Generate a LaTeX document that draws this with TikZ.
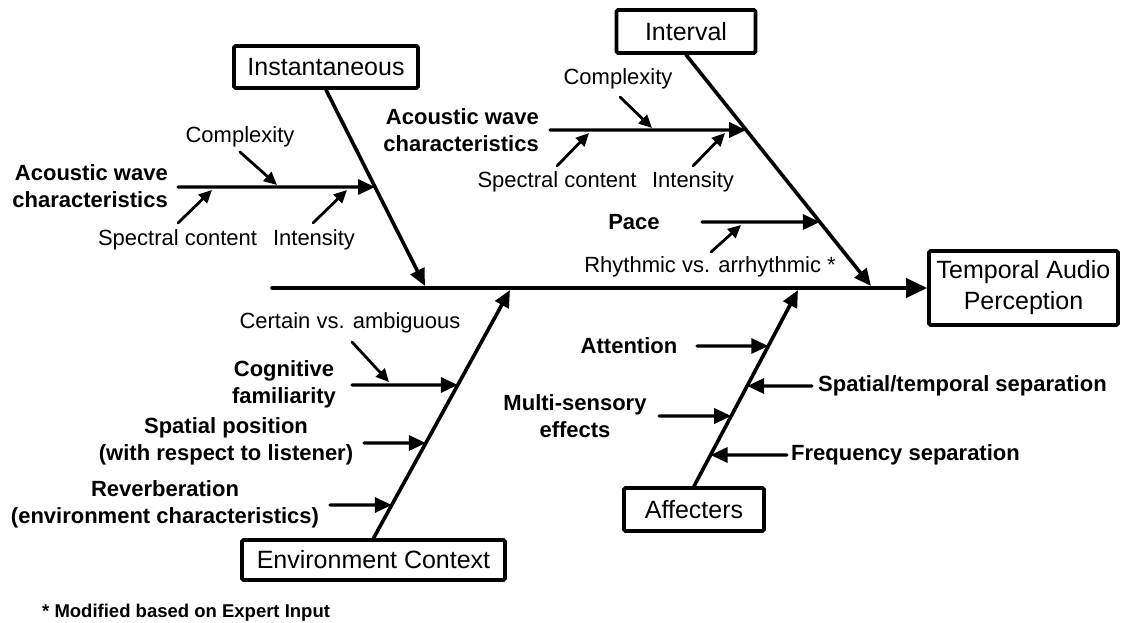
\documentclass[tikz,border=0pt]{standalone}
\usepackage{fontspec}
\setmainfont{Liberation Sans}
\usetikzlibrary{arrows.meta}
\begin{document}
\begin{tikzpicture}[x=1pt,y=-1pt,
  bone/.style={line width=3.6pt, line cap=round, -{Triangle[length=17pt,width=15pt]}},
  rib/.style={line width=3.3pt, line cap=round, -{Triangle[length=17pt,width=15pt]}},
  twig/.style={line width=2.8pt, line cap=round, -{Triangle[length=13pt,width=12pt]}},
  catbox/.style={draw, line width=3.6pt, rounded corners=1.5pt, inner sep=0pt,
    font=\fontsize{25}{31}\selectfont, align=center},
  lbl/.style={inner sep=0pt, font=\fontsize{22}{27}\selectfont},
  blbl/.style={inner sep=0pt, font=\fontsize{22}{27}\selectfont\bfseries, align=center},
]
\useasboundingbox (0,0) rectangle (1127,623);

% category boxes and the head
\node[catbox, minimum width=184pt, minimum height=42pt] (inst) at (326,67) {Instantaneous};
\node[catbox, minimum width=139pt, minimum height=43pt] (intv) at (686,31.5) {Interval};
\node[catbox, minimum width=189pt, minimum height=74pt] (tap) at (1023.5,288) {Temporal Audio\\Perception};
\node[catbox, minimum width=263pt, minimum height=40pt] (env) at (373.5,560) {Environment Context};
\node[catbox, minimum width=140pt, minimum height=43pt] (aff) at (694,509.5) {Affecters};

% spine
\coordinate (tail) at (272,288);
\draw[bone, -{Triangle[length=21pt,width=19pt]}] (tail) -- (tap.west);

% main bones
\coordinate (instTip) at (425,286);
\coordinate (intvTip) at (871,286);
\coordinate (envTip) at (510,290);
\coordinate (affTip) at (798,290);
\draw[bone] (inst.south) -- (instTip);
\draw[bone] (intv.south) -- (intvTip);
\draw[bone] (env.north) -- (envTip);
\draw[bone] (aff.north) -- (affTip);

% ---- Instantaneous
\coordinate (iA0) at (178,187);
\coordinate (iA) at (intersection of inst.south--instTip and 0,187--100,187);
\draw[rib] (iA0) -- (iA);
\node[blbl, align=right, anchor=east] (iAl) at (168,186.5) {Acoustic wave\\characteristics};
\node[lbl] (iCx) at (240,137) {Complexity};
\node[lbl] (iSp) at (177.5,240) {Spectral content};
\node[lbl] (iIn) at (314,240) {Intensity};
\coordinate (iCx0) at (240,152); \coordinate (iCx1) at (277,185);
\coordinate (iSp0) at (178,223); \coordinate (iSp1) at (212,190);
\coordinate (iIn0) at (313,223); \coordinate (iIn1) at (347,190);
\draw[twig] (iCx0) -- (iCx1);
\draw[twig] (iSp0) -- (iSp1);
\draw[twig] (iIn0) -- (iIn1);

% ---- Interval
\coordinate (vA0) at (550,130);
\coordinate (vA) at (intersection of intv.south--intvTip and 0,130--100,130);
\draw[rib] (vA0) -- (vA);
\node[blbl, align=right, anchor=east] (vAl) at (539,130) {Acoustic wave\\characteristics};
\node[lbl] (vCx) at (618,79) {Complexity};
\node[lbl] (vSp) at (557,182) {Spectral content};
\node[lbl] (vIn) at (693,182) {Intensity};
\coordinate (vCx0) at (620,97);  \coordinate (vCx1) at (652,128);
\coordinate (vSp0) at (557,166); \coordinate (vSp1) at (589,133);
\coordinate (vIn0) at (693,166); \coordinate (vIn1) at (725,133);
\draw[twig] (vCx0) -- (vCx1);
\draw[twig] (vSp0) -- (vSp1);
\draw[twig] (vIn0) -- (vIn1);

\coordinate (vP0) at (702,222);
\coordinate (vP) at (intersection of intv.south--intvTip and 0,222--100,222);
\draw[rib] (vP0) -- (vP);
\node[blbl] (vPl) at (634,222) {Pace};
\node[lbl] (vRh) at (710,267) {Rhythmic vs. arrhythmic *};
\coordinate (vRh0) at (711,252); \coordinate (vRh1) at (741,225);
\draw[twig] (vRh0) -- (vRh1);

% ---- Environment Context
\coordinate (eC0) at (352,385);
\coordinate (eC) at (intersection of env.north--envTip and 0,385--100,385);
\draw[rib] (eC0) -- (eC);
\node[blbl] (eCl) at (284,384.5) {Cognitive\\familiarity};
\node[lbl] (eCa) at (350,323) {Certain vs. ambiguous};
\coordinate (eCa0) at (352,342); \coordinate (eCa1) at (389,382);
\draw[twig] (eCa0) -- (eCa1);

\coordinate (eS0) at (364,443);
\coordinate (eS) at (intersection of env.north--envTip and 0,443--100,443);
\draw[rib] (eS0) -- (eS);
\node[blbl] (eSl) at (226,441.5) {Spatial position\\(with respect to listener)};

\coordinate (eR0) at (330,505);
\coordinate (eR) at (intersection of env.north--envTip and 0,505--100,505);
\draw[rib] (eR0) -- (eR);
\node[blbl] (eRl) at (165,504) {Reverberation\\(environment characteristics)};

% ---- Affecters
\coordinate (aA0) at (697,346);
\coordinate (aA) at (intersection of aff.north--affTip and 0,346--100,346);
\draw[rib] (aA0) -- (aA);
\node[blbl] (aAl) at (629,346) {Attention};

\coordinate (aS0) at (812,386);
\coordinate (aS) at (intersection of aff.north--affTip and 0,386--100,386);
\draw[rib] (aS0) -- (aS);
\node[blbl, anchor=west] (aSl) at (818,386) {Spatial/temporal separation};

\coordinate (aM0) at (659,416);
\coordinate (aM) at (intersection of aff.north--affTip and 0,416--100,416);
\draw[rib] (aM0) -- (aM);
\node[blbl] (aMl) at (575,416.5) {Multi-sensory\\effects};

\coordinate (aF0) at (787,455);
\coordinate (aF) at (intersection of aff.north--affTip and 0,455--100,455);
\draw[rib] (aF0) -- (aF);
\node[blbl, anchor=west] (aFl) at (791,455) {Frequency separation};

% footnote
\node[inner sep=0pt, anchor=west, font=\fontsize{18.5}{22}\selectfont\bfseries] (note) at (42,613) {* Modified based on Expert Input};
\end{tikzpicture}
\end{document}
